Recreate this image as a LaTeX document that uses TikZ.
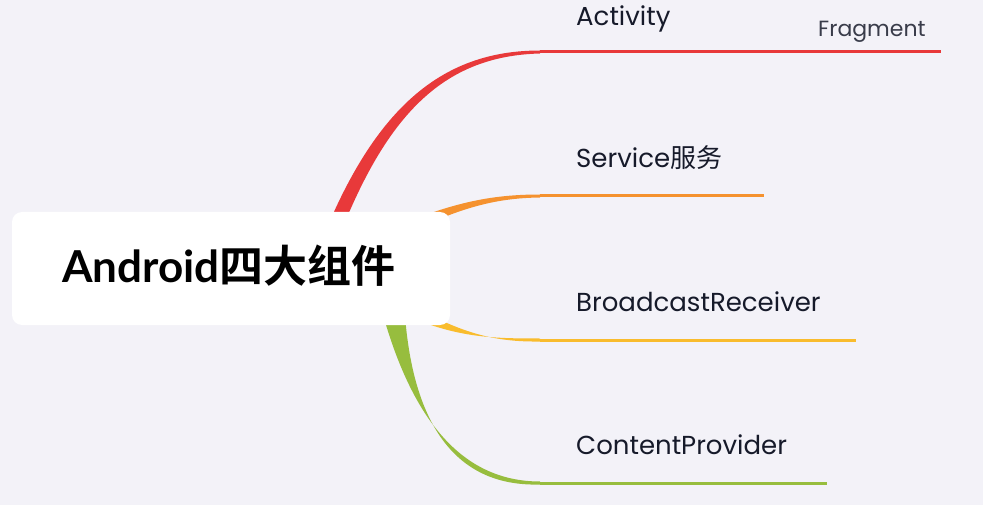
\documentclass[tikz,border=0pt]{standalone}
\usepackage{fontspec}
\newfontfamily\lat{Poppins}
\newfontfamily\latb{Lato Bold}
\newfontfamily\cjk{Noto Sans CJK SC}
\newfontfamily\cjkb{Noto Sans CJK SC Bold}
\definecolor{bg}{HTML}{F3F2F8}
\definecolor{cred}{HTML}{E8393A}
\definecolor{corange}{HTML}{F5922F}
\definecolor{cyellow}{HTML}{F9BC2D}
\definecolor{cgreen}{HTML}{97BD3E}
\definecolor{ctext}{HTML}{161A2A}
\begin{document}
\begin{tikzpicture}[x=1pt,y=-1pt,
  lbl/.style={anchor=base west,inner sep=0pt,text=ctext,font=\lat\fontsize{26}{30}\selectfont},
  hline/.style={line width=3pt,line cap=butt}]
\useasboundingbox[fill=bg] (0,0) rectangle (983,505);
% tapered branches
\fill[cred] (318,250) .. controls (372,110) and (440,50.5) .. (540,50.5)
  -- (540,53.5) .. controls (442,56) and (384,116) .. (334,250) -- cycle;
\fill[corange] (428,214) .. controls (468,200) and (500,194.5) .. (540,194.5)
  -- (540,197.5) .. controls (502,198) and (472,205) .. (432,222) -- cycle;
\fill[cyellow] (428,324) .. controls (468,338) and (500,338.5) .. (540,338.5)
  -- (540,341.5) .. controls (502,342) and (472,336) .. (432,316) -- cycle;
\fill[cgreen] (379,300) .. controls (410,420) and (462,481.5) .. (540,481.5)
  -- (540,484.5) .. controls (456,487) and (410,425) .. (404,300) -- cycle;
% end points of branches
\coordinate (ra) at (540,52);
\coordinate (rb) at (941,52);
\coordinate (oa) at (540,196);
\coordinate (ob) at (764,196);
\coordinate (ya) at (540,340);
\coordinate (yb) at (856,340);
\coordinate (ga) at (540,483);
\coordinate (gb) at (827,483);
\draw[hline,cred] (ra) -- (rb);
\draw[hline,corange] (oa) -- (ob);
\draw[hline,cyellow] (ya) -- (yb);
\draw[hline,cgreen] (ga) -- (gb);
% central box
\node[fill=white,rounded corners=10pt,minimum width=438pt,minimum height=113pt,inner sep=0pt]
  (root) at (231,268.5) {};
\node[inner sep=0pt,anchor=base] (rootlbl) at (229,283)
  {\fontsize{44}{50}\selectfont{\latb Android}{\cjkb 四大组件}};
% labels
\node[lbl] (act) at (576,26) {Activity};
\node[lbl,font=\lat\fontsize{22}{26}\selectfont,text=ctext!85] (frag) at (818,37) {Fragment};
\node[lbl] (svc) at (576,168) {Service{\cjk 服务}};
\node[lbl] (brc) at (576,311) {BroadcastReceiver};
\node[lbl] (cp) at (576,454) {ContentProvider};
\end{tikzpicture}
\end{document}
